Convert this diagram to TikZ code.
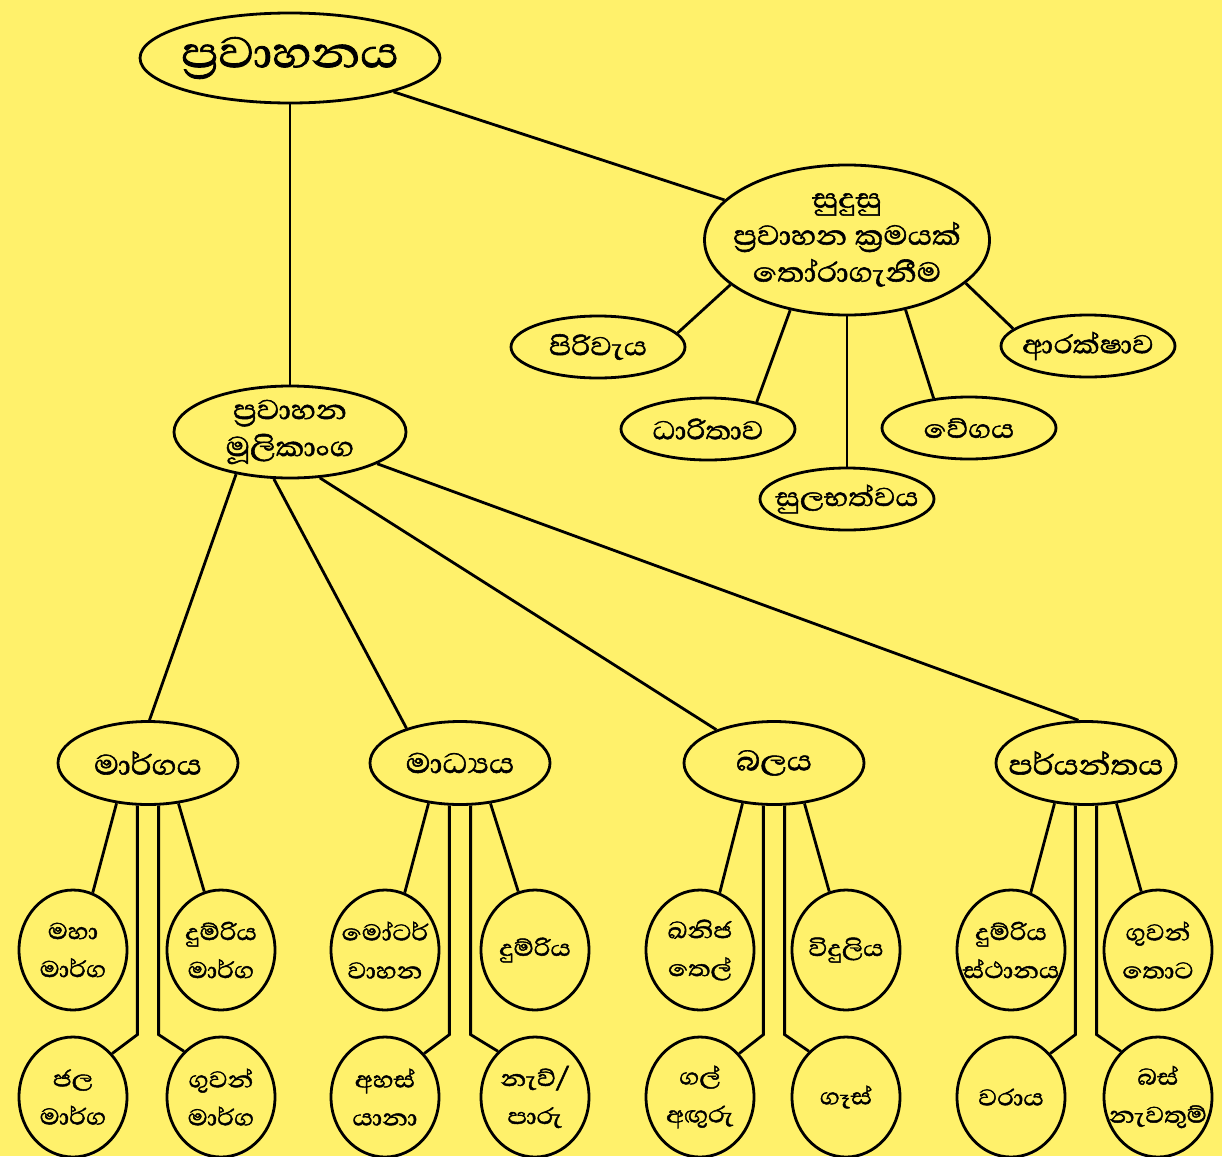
\documentclass[tikz,border=0pt]{standalone}
\usepackage{fontspec}
\newfontfamily\sinhala[Script=Sinhala,FakeBold=1.6,FakeStretch=1.15]{Abhaya Libre}
\usetikzlibrary{shapes.geometric}
\definecolor{paper}{RGB}{255,241,107}

\begin{document}
\begin{tikzpicture}[x=1pt,y=-1pt,line width=2.8pt,
		bubble/.style={ellipse,draw,inner sep=-40pt,align=center},
		topic/.style={bubble,minimum width=300pt,minimum height=90pt,font=\sinhala\fontsize{55}{60}\selectfont},
		branch/.style={bubble,font=\sinhala\fontsize{35}{37}\selectfont},
		factor/.style={bubble,minimum width=174pt,minimum height=62pt,font=\sinhala\fontsize{33}{36}\selectfont},
		group/.style={bubble,minimum width=180pt,minimum height=83pt,font=\sinhala\fontsize{36}{40}\selectfont},
		leaf/.style={bubble,minimum width=108pt,minimum height=120pt,font=\sinhala\fontsize{29}{38}\selectfont}]
		% background and page size
		\fill[paper] (0,0) rectangle (1222,1156);
		\useasboundingbox (0,0) rectangle (1222,1156);
		% top and choice of mode
		\node[topic] (root) at (290,58) {ප්^^^^200dරවාහනය};
		\node[branch,minimum width=285pt,minimum height=150pt] (choose) at (847,240) {සුදුසු\\ප්^^^^200dරවාහන ක්^^^^200dරමයක්\\තෝරාගැනීම};
		\node[factor] (cost) at (598,347) {පිරිවැය};
		\node[factor] (capacity) at (708,429) {ධාරිතාව};
		\node[factor] (avail) at (847,499) {සුලභත්වය};
		\node[factor] (speed) at (969,428) {වේගය};
		\node[factor] (safety) at (1088,346) {ආරක්ෂාව};
		% basic elements
		\node[branch,minimum width=232pt,minimum height=92pt] (base) at (290,432) {ප්^^^^200dරවාහන\\මූලිකාංග};
		\node[group] (route) at (148,763) {මාර්ගය};
		\node[group] (medium) at (460,763) {මාධ්^^^^200dයය};
		\node[group] (power) at (774,763) {බලය};
		\node[group] (terminal) at (1086,763) {පර්යන්තය};
		% leaves
		\node[leaf] (route-a) at (73,950) {මහා\\මාර්ග};
		\node[leaf] (route-b) at (221,950) {දුම්රිය\\මාර්ග};
		\node[leaf] (route-c) at (73,1097) {ජල\\මාර්ග};
		\node[leaf] (route-d) at (221,1097) {ගුවන්\\මාර්ග};
		\node[leaf] (medium-a) at (385,950) {මෝටර්\\වාහන};
		\node[leaf] (medium-b) at (535,950) {දුම්රිය};
		\node[leaf] (medium-c) at (385,1097) {අහස්\\යානා};
		\node[leaf] (medium-d) at (535,1097) {නැව්/\\පාරු};
		\node[leaf] (power-a) at (700,950) {ඛනිජ\\තෙල්};
		\node[leaf] (power-b) at (846,950) {විදුලිය};
		\node[leaf] (power-c) at (700,1097) {ගල්\\අඟුරු};
		\node[leaf] (power-d) at (846,1097) {ගෑස්};
		\node[leaf] (terminal-a) at (1011,950) {දුම්රිය\\ස්ථානය};
		\node[leaf] (terminal-b) at (1158,950) {ගුවන්\\තොට};
		\node[leaf] (terminal-c) at (1011,1097) {වරාය};
		\node[leaf] (terminal-d) at (1158,1097) {බස්\\නැවතුම්};
		% connectors
		\draw (root.south) -- (base.north);
		\draw (root) -- (choose);
		\draw (choose.201) -- (cost.10);
		\draw (choose.231) -- (capacity.29);
		\draw (choose.south) -- (avail.north);
		\draw (choose.310) -- (speed.140);
		\draw (choose.340) -- (safety.167);
		\draw (base.218) -- (route.88);
		\draw (base.251) -- (medium.147);
		\draw (base.303) -- (power.150);
		\draw (base.340) -- (terminal.100);
		\foreach \g in {route,medium,power,terminal}{
			\draw (\g.232) -- (\g-a.71);
			\draw (\g.307) -- (\g-b.106);
			\draw (\g.256) -- ++(0,229) -- (\g-c.48);
			\draw (\g.284) -- ++(0,229) -- (\g-d.129);
		}
	\end{tikzpicture}
\end{document}
